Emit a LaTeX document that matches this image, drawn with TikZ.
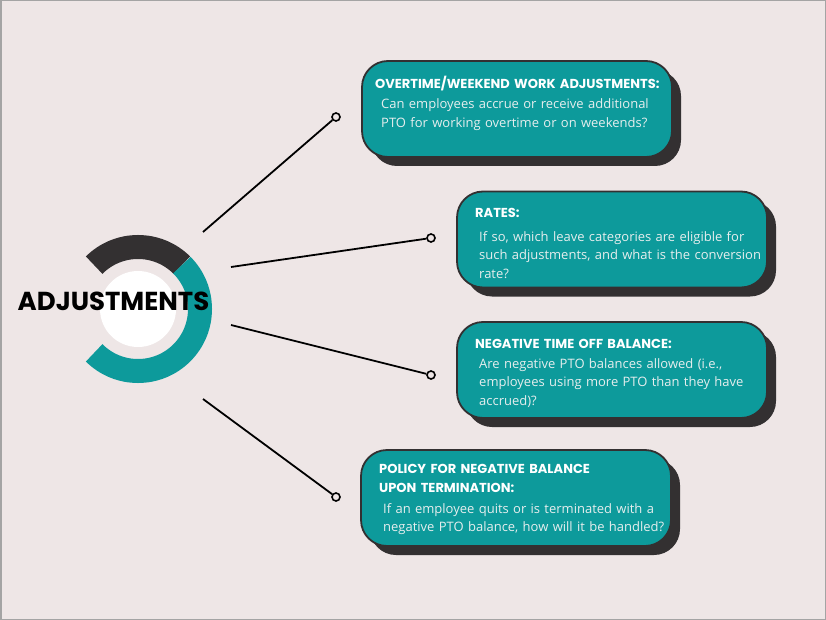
\documentclass[tikz,border=0pt]{standalone}
\usepackage{fontspec}
\usetikzlibrary{shadows}
\newfontfamily\headfont{Poppins}
\newfontfamily\bodyfont{Open Sans}
\definecolor{bg}{HTML}{EEE6E6}
\definecolor{frame}{HTML}{A4A4A4}
\definecolor{ink}{HTML}{333031}
\definecolor{petrol}{HTML}{0D9A9B}
\definecolor{paper}{HTML}{E6EEEE}
\tikzset{
  card/.style={draw=ink, fill=petrol, line width=1.8pt, rounded corners=26pt,
    minimum width=310pt, minimum height=96pt,
    drop shadow={shadow xshift=9pt, shadow yshift=-9pt, fill=ink, opacity=1}},
  head/.style={anchor=base west, inner sep=0pt, text=white, text width=300pt, align=left,
    font=\headfont\bfseries\fontsize{13}{19}\selectfont},
  body/.style={anchor=base west, inner sep=0pt, text=paper, text width=300pt, align=left,
    font=\bodyfont\fontsize{13}{18.5}\selectfont},
  link/.style={draw=black, line width=1.8pt},
  tip/.style={circle, draw=black, fill=bg, line width=1.6pt, inner sep=0pt, minimum size=8pt},
  band/.style={line width=24pt},
}

\begin{document}
\begin{tikzpicture}[x=1pt,y=-1pt]
  \fill[bg, draw=frame, line width=1.5pt] (0.75,0.75) rectangle (825.25,619.25);
  \useasboundingbox (0,0) rectangle (826,620);

  % ring
  \coordinate (ctr) at (138,309);
  \draw[band, ink] ([shift={(-135:62)}]ctr) arc[start angle=-135, end angle=-45, radius=62];
  \draw[band, petrol] ([shift={(-45:62)}]ctr) arc[start angle=-45, end angle=135, radius=62];
  \fill[white] (ctr) circle[radius=38];
  \node[anchor=base, inner sep=0pt, font=\headfont\bfseries\fontsize{26}{30}\selectfont] (title) at (113.5,310) {ADJUSTMENTS};

  % cards
  \node[card] (over) at (517,109) {};
  \node[card] (rates) at (612,239.5) {};
  \node[card] (neg) at (612,370) {};
  \node[card] (term) at (516,498) {};

  \node[head] (overh) at (375,89) {OVERTIME/WEEKEND WORK ADJUSTMENTS:};
  \node[body] (overb) at (381,109) {Can employees accrue or receive additional\\PTO for working overtime or on weekends?};

  \node[head] (ratesh) at (475,218) {RATES:};
  \node[body] (ratesb) at (479,241) {If so, which leave categories are eligible for\\such adjustments, and what is the conversion\\rate?};

  \node[head] (negh) at (475,348) {NEGATIVE TIME OFF BALANCE:};
  \node[body] (negb) at (479,368) {Are negative PTO balances allowed (i.e.,\\employees using more PTO than they have\\accrued)?};

  \node[head] (termh) at (379,473) {POLICY FOR NEGATIVE BALANCE\\UPON TERMINATION:};
  \node[body] (termb) at (383,513) {If an employee quits or is terminated with a\\negative PTO balance, how will it be handled?};

  % connectors
  \coordinate (s1) at (203,232);
  \coordinate (s2) at (231,267);
  \coordinate (s3) at (231,325);
  \coordinate (s4) at (203,399);
  \node[tip] (e1) at (336,117) {};
  \node[tip] (e2) at (431,238) {};
  \node[tip] (e3) at (431,375) {};
  \node[tip] (e4) at (336,497) {};
  \foreach \i in {1,...,4}
    \draw[link] (s\i) -- (e\i);
\end{tikzpicture}
\end{document}
